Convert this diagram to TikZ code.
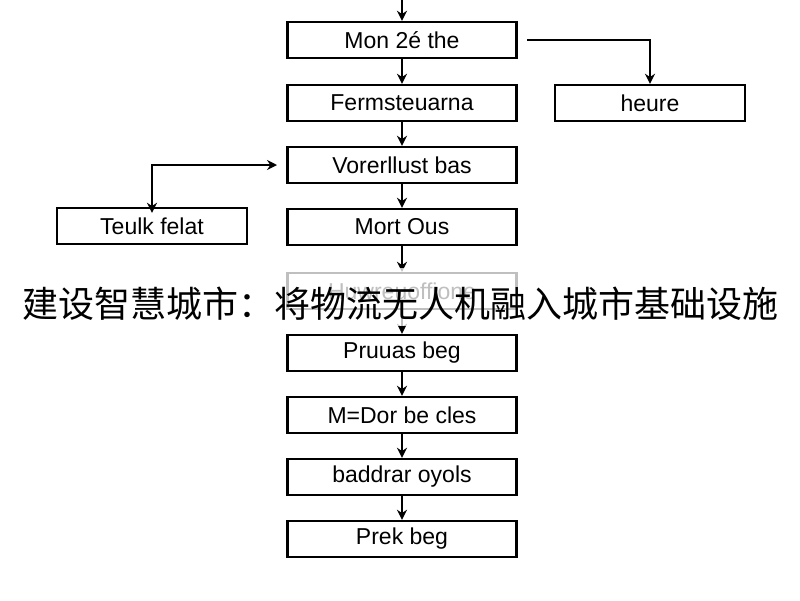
\documentclass[tikz,border=0pt]{standalone}
\usepackage{fontspec}
\setmainfont{Liberation Sans}
\newfontfamily\cjk{Noto Sans CJK SC}
\usetikzlibrary{arrows.meta}
\begin{document}
\begin{tikzpicture}[x=1pt,y=-1pt,
  box/.style={draw=black,line width=2.4pt,minimum width=229pt,minimum height=36pt,inner sep=0pt,font=\fontsize{23}{23}\selectfont},
  sbox/.style={box,minimum width=190pt},
  arr/.style={line width=2pt,-{Stealth[length=10pt,width=10pt]}}]
\useasboundingbox[fill=white] (0,0) rectangle (800,600);
\node[box] (b1) at (402,40) {Mon 2é the};
\node[box] (b2) at (402,103) {Fermsteuarna};
\node[box] (b3) at (402,165) {Vorerllust bas};
\node[box] (b4) at (402,227) {Mort Ous};
\node[box] (b5) at (402,291) {Huwreuoffione};
\node[box] (b6) at (402,353) {Pruuas beg};
\node[box] (b7) at (402,415) {M=Dor be cles};
\node[box] (b8) at (402,477) {baddrar oyols};
\node[box] (b9) at (402,539) {Prek beg};
\node[sbox] (r) at (650,103) {heure};
\node[sbox] (l) at (152,226) {Teulk felat};
\coordinate (top) at (402,0);
\draw[arr] (top) -- (b1);
\foreach \a/\b in {b1/b2,b2/b3,b3/b4,b4/b5,b5/b6,b6/b7,b7/b8,b8/b9}
  \draw[arr] (\a) -- (\b);
\coordinate (rc) at (527,40);
\draw[arr] (rc) -| (r.north);
\coordinate (lc) at (277,165);
\draw[arr,{Stealth[length=10pt,width=10pt]}-{Stealth[length=10pt,width=10pt]}] (lc) -| ([yshift=-6pt]l.north);
\fill[white,opacity=0.75] (0,268) rectangle (800,326);
\node[font=\cjk\fontsize{36}{36}\selectfont] (t) at (400,304) {建设智慧城市：将物流无人机融入城市基础设施};
\end{tikzpicture}
\end{document}
